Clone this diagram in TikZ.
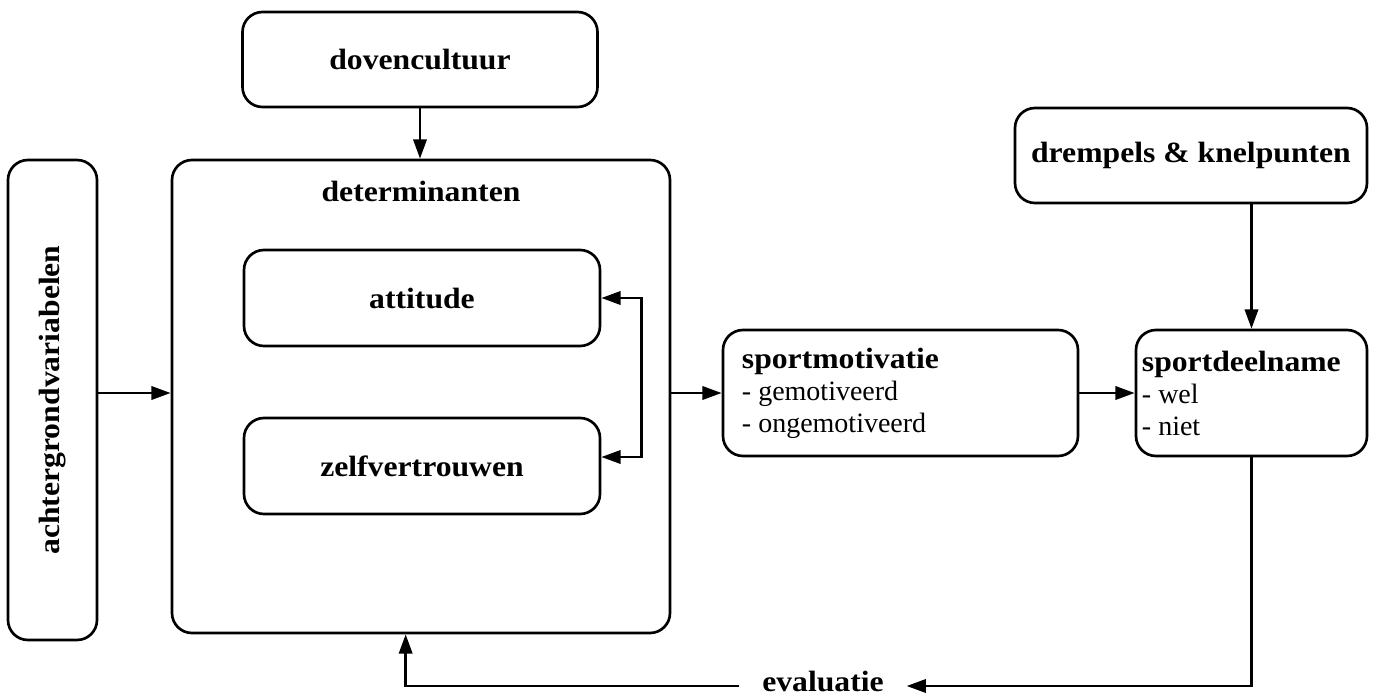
\documentclass[tikz,border=0pt]{standalone}
\usepackage{fontspec}
\setmainfont[BoldFeatures={FakeStretch=1.08}]{Liberation Serif}
\usetikzlibrary{arrows.meta}
\begin{document}
\begin{tikzpicture}[x=0.75pt,y=-0.75pt,
  box/.style={draw, line width=2pt, rounded corners=15pt, inner sep=0pt},
  lbl/.style={font=\fontsize{22}{24}\selectfont\bfseries, inner sep=0pt},
  lst/.style={font=\fontsize{21}{24}\selectfont, align=left, inner sep=0pt, anchor=west},
  tip/.tip={Triangle[length=14.5pt,width=10pt]},
  arr/.style={line width=2pt, -tip},
  ln/.style={line width=2pt}]
\useasboundingbox (0,0) rectangle (1375,697);

% boxes
\node[box, minimum width=266.25pt, minimum height=71.25pt, lbl] (dov) at (420,59.5) {dovencultuur};
\node[box, minimum width=373.5pt, minimum height=354.75pt] (det) at (421,396.5) {};
\node[lbl] (dett) at ([yshift=-24.75pt]det.north) {determinanten};
\node[box, minimum width=267pt, minimum height=72pt, lbl] (att) at (422,298) {attitude};
\node[box, minimum width=267pt, minimum height=72pt, lbl] (zel) at (422,466) {zelfvertrouwen};
\node[box, minimum width=66.75pt, minimum height=360pt] (ach) at (52.5,400) {};
\node[lbl, rotate=90] (acht) at (ach.center) {achtergrondvariabelen};
\node[box, minimum width=266.25pt, minimum height=94.5pt] (mot) at (900.5,393) {};
\node[lst] (mott) at ([xshift=15pt]mot.west) {{\fontsize{22}{24}\selectfont\bfseries sportmotivatie}\\- gemotiveerd\\- ongemotiveerd};
\node[box, minimum width=173.25pt, minimum height=94.5pt] (dee) at (1251.5,393) {};
\node[lst] (deet) at ([xshift=5.25pt]dee.west) {{\fontsize{22}{24}\selectfont\bfseries sportdeelname}\\- wel\\- niet};
\node[box, minimum width=264pt, minimum height=71.25pt, lbl] (drm) at (1191,155.5) {drempels \& knelpunten};
\node[lbl, inner xsep=17pt, text height=8pt, text depth=0pt] (eva) at (823,686) {evaluatie};

% connectors
\draw[arr] (dov.south) -- (dov.south |- det.north);
\draw[arr] (ach.east |- mot.west) -- (det.west |- mot.west);
\draw[arr] (det.east |- mot.west) -- (mot.west);
\draw[arr] (mot.east) -- (dee.west);
\draw[arr] (dee.north |- drm.south) -- (dee.north);
\coordinate (bt) at ([xshift=30pt]att.east);
\coordinate (zin) at ([yshift=6.75pt]zel.east);
\draw[ln, tip-tip] (att.east) -- (bt) |- (zin);
\draw[arr] (dee.south) |- (eva.east);
\coordinate (fb) at ([xshift=176.25pt]det.south west);
\draw[arr] (eva.west) -| (fb);
\end{tikzpicture}
\end{document}
